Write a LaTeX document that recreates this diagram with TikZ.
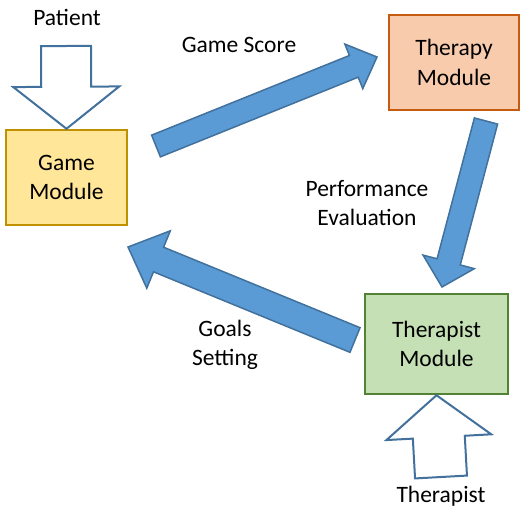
\documentclass[tikz,border=0pt]{standalone}
\usepackage{fontspec}
\setmainfont{Carlito}
\usetikzlibrary{calc}

\definecolor{gameFill}{HTML}{FFE699}
\definecolor{gameLine}{HTML}{BF9000}
\definecolor{therapyFill}{HTML}{F8CBAD}
\definecolor{therapyLine}{HTML}{C55A11}
\definecolor{therapistFill}{HTML}{C5E0B4}
\definecolor{therapistLine}{HTML}{548235}
\definecolor{flowFill}{HTML}{5B9BD5}
\definecolor{flowLine}{HTML}{41719C}

% block arrow: style, tail, tip, half shaft, half head, head length
\newcommand{\blockarrow}[6]{%
  \coordinate (h) at ($(#3)!#6!(#2)$);
  \draw[#1] ($(#2)!#4!90:(#3)$) -- ($(h)!#4!90:(#3)$) -- ($(h)!#5!90:(#3)$) -- (#3)
    -- ($(h)!#5!-90:(#3)$) -- ($(h)!#4!-90:(#3)$) -- ($(#2)!#4!-90:(#3)$) -- cycle;}

\begin{document}
\begin{tikzpicture}[x=1pt,y=-1pt,
    font=\fontsize{23.5}{29.5}\selectfont,
    module/.style={draw,line width=2.5pt,align=center,inner sep=0pt},
    flow/.style={fill=flowFill,draw=flowLine,line width=1.5pt,line join=miter},
    hollow/.style={fill=white,draw=flowLine,line width=2pt,line join=miter}]
    \useasboundingbox (0,0) rectangle (521,509);
    \node[module,fill=gameFill,draw=gameLine,minimum width=121,minimum height=95] (game) at (66.5,177.5) {Game\\Module};
    \node[module,fill=therapyFill,draw=therapyLine,minimum width=130,minimum height=95] (therapy) at (454,62.5) {Therapy\\Module};
    \node[module,fill=therapistFill,draw=therapistLine,minimum width=143,minimum height=100] (therapist) at (436.5,344) {Therapist\\Module};
    \node (patient) at (67,17) {Patient};
    \node (expert) at (441,496) {Therapist};
    \node (score) at (239,45) {Game Score};
    \node[align=center] (eval) at (367,203) {Performance\\Evaluation};
    \node[align=center] (goals) at (225,345) {Goals\\Setting};
    \coordinate (score-tail) at (156,146);
    \coordinate (score-tip) at (377,57);
    \coordinate (eval-tail) at (486,121);
    \coordinate (eval-tip) at (442,287);
    \coordinate (goals-tail) at (355,340);
    \coordinate (goals-tip) at (128,247);
    \coordinate (patient-tail) at (66,46);
    \coordinate (expert-tail) at (441,477);
    \blockarrow{flow}{score-tail}{score-tip}{11.7pt}{24pt}{25pt}
    \blockarrow{flow}{eval-tail}{eval-tip}{12pt}{26.5pt}{26pt}
    \blockarrow{flow}{goals-tail}{goals-tip}{13.3pt}{31pt}{33pt}
    \blockarrow{hollow}{patient-tail}{game.north}{25pt}{53pt}{42pt}
    \blockarrow{hollow}{expert-tail}{therapist.south}{26pt}{52.5pt}{42pt}
\end{tikzpicture}
\end{document}
